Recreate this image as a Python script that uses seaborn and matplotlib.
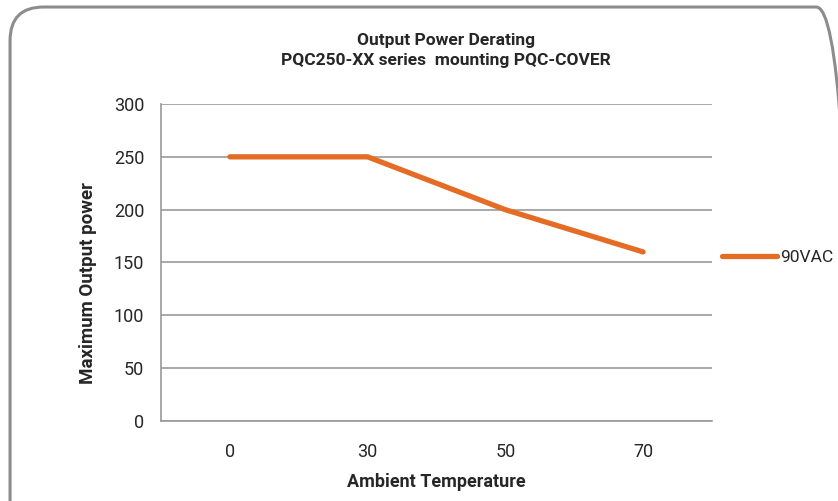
import matplotlib
matplotlib.use("Agg")
import matplotlib.pyplot as plt
import seaborn as sns
import pandas as pd
from matplotlib.patches import FancyBboxPatch

# data
temps = ["0", "30", "50", "70"]
power = [250, 250, 200, 160]
series_name = "90VAC"

sns.set_theme(style="white")
plt.rcParams["font.family"] = ["Liberation Sans Narrow", "Roboto", "DejaVu Sans"]

df = pd.DataFrame({"Ambient Temperature": temps, "Power": power})

fig = plt.figure(figsize=(8.38, 5.01), dpi=100)
ax = fig.add_axes([0.1921, 0.1597, 0.6575, 0.6327])

sns.pointplot(data=df, x="Ambient Temperature", y="Power", order=temps,
              color="#E46C25", markers="", linestyles="-", label=series_name,
              ax=ax)
for ln in ax.lines:
    ln.set_linewidth(3.8)
    ln.set_solid_capstyle("round")

grid_c = "#9a9a9a"
ax.set_ylim(0, 300)
ax.set_xlim(-0.5, len(temps) - 0.5)
ax.set_yticks(range(0, 301, 50))
ax.yaxis.grid(True, color=grid_c, linewidth=1.2)
ax.set_axisbelow(True)
for s in ["top", "right"]:
    ax.spines[s].set_visible(False)
for s in ["left", "bottom"]:
    ax.spines[s].set_color(grid_c)
    ax.spines[s].set_linewidth(1.2)

# category boundaries as minor ticks, like Excel
ax.set_xticks([i - 0.5 for i in range(len(temps) + 1)], minor=True)
ax.tick_params(axis="x", which="major", length=0, labelsize=13, pad=16)
ax.tick_params(axis="x", which="minor", length=6, color=grid_c, width=1.2, direction="out")
ax.tick_params(axis="y", length=6, color=grid_c, width=1.2, labelsize=13, pad=6)
ax.set_xlabel("")
ax.set_ylabel("")

fig.text(0.521, 0.038, "Ambient Temperature", ha="center", va="center",
         fontsize=13, fontweight="bold")
fig.text(0.105, 0.435, "Maximum Output power", ha="center", va="center",
         rotation=90, fontsize=13.5, fontweight="bold")
fig.text(0.532, 0.899, "Output Power Derating\nPQC250-XX series  mounting PQC-COVER",
         ha="center", va="center", fontsize=12.5, fontweight="bold", linespacing=1.4)

ax.legend(loc="center left", bbox_to_anchor=(1.005, 0.517), frameon=False,
          fontsize=12.5, handlelength=3.2, handletextpad=0.15, borderaxespad=0)

# rounded chart-area border (right and bottom edges run off the picture)
border = FancyBboxPatch((0.012, -0.1), 1.002, 1.086, boxstyle="round,pad=0,rounding_size=0.04",
                        transform=fig.transFigure, facecolor="none", edgecolor="#8c8c8c",
                        linewidth=2.2, mutation_aspect=838 / 501)
fig.patches.append(border)

fig.savefig("out.png", dpi=100)
